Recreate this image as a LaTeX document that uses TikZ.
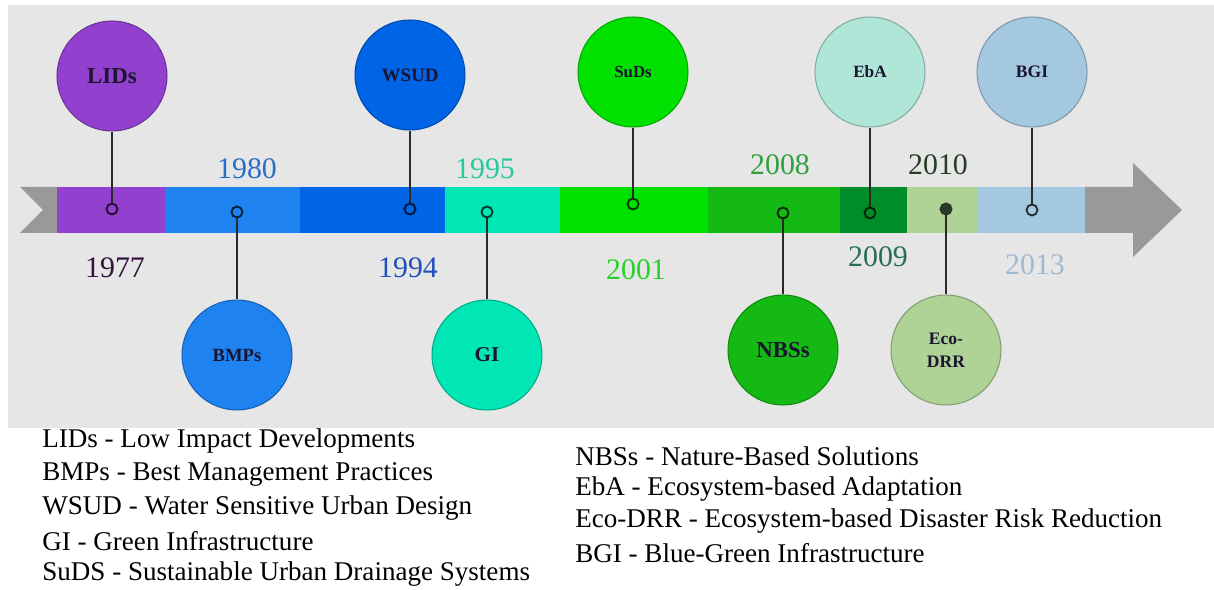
\documentclass[tikz,border=0pt]{standalone}
\usepackage{fontspec}
\setmainfont{Liberation Serif}
\usetikzlibrary{positioning}

% Colours

\definecolor{panelgray}{HTML}{E6E6E6}
\definecolor{arrowgray}{HTML}{999999}
\definecolor{stemdark}{HTML}{2A2A2A}
\definecolor{labeldark}{HTML}{1C1430}
\definecolor{segpurple}{HTML}{9141CD}
\definecolor{seglightblue}{HTML}{1E82F0}
\definecolor{segblue}{HTML}{0064E6}
\definecolor{segaqua}{HTML}{00E6B4}
\definecolor{segbright}{HTML}{00E100}
\definecolor{segmid}{HTML}{14B914}
\definecolor{segdark}{HTML}{008C28}
\definecolor{segpale}{HTML}{AFD296}
\definecolor{segsky}{HTML}{A5C8E1}
\definecolor{ebafill}{HTML}{AFE6D7}
\definecolor{yr1977}{HTML}{32143C}
\definecolor{yr1980}{HTML}{286EC8}
\definecolor{yr1994}{HTML}{1E50BE}
\definecolor{yr1995}{HTML}{28C8A0}
\definecolor{yr2001}{HTML}{28D228}
\definecolor{yr2008}{HTML}{32A03C}
\definecolor{yr2009}{HTML}{286E50}
\definecolor{yr2010}{HTML}{283C28}
\definecolor{yr2013}{HTML}{A0B9D2}

\tikzset{
	bubble/.style = {circle, draw = #1!75!black, line width = 0.6pt, fill = #1, minimum size = 2.2 cm, inner sep = 0 pt, text = labeldark, align = center},
	ring/.style = {circle, draw = #1!25!black, line width = 1.1pt, fill = #1, minimum size = 0.22 cm, inner sep = 0 pt},
	stem/.style = {line width = 1.2pt, stemdark},
	year/.style = {text = #1, font = \fontsize{17}{17}\selectfont},
	legend/.style = {anchor = west, inner sep = 0 pt, font = \fontsize{15.4}{16}\selectfont}
}

\begin{document}
\begin{tikzpicture}[x = 0.02 cm, y = -0.02 cm]

	% Definitions
	
	\def\T{187}	% Top of the bar
	\def\B{233}	% Bottom of the bar
	
	\useasboundingbox (0, 0) rectangle (1214, 590);
	\fill [white] (0, 0) rectangle (1214, 590);
	\fill [panelgray] (8, 5) rectangle (1214, 428);
	
	% Bar
	
	\fill [arrowgray] (20, \T) -- (58, \T) -- (58, \B) -- (20, \B) -- (43, 210) -- cycle;
	\fill [segpurple] (57, \T) rectangle (166, \B);
	\fill [seglightblue] (165, \T) rectangle (301, \B);
	\fill [segblue] (300, \T) rectangle (446, \B);
	\fill [segaqua] (445, \T) rectangle (561, \B);
	\fill [segbright] (560, \T) rectangle (709, \B);
	\fill [segmid] (708, \T) rectangle (841, \B);
	\fill [segdark] (840, \T) rectangle (908, \B);
	\fill [segpale] (907, \T) rectangle (979, \B);
	\fill [segsky] (978, \T) rectangle (1086, \B);
	\fill [arrowgray] (1085, \T) -- (1133, \T) -- (1133, 163) -- (1182, 210) -- (1133, 257) -- (1133, \B) -- (1085, \B) -- cycle;
	
	% Markers on the bar
	
	\node [ring = segpurple] (lidsdot) at (112, 209) {};
	\node [ring = seglightblue] (bmpsdot) at (237, 212) {};
	\node [ring = segblue] (wsuddot) at (410, 209) {};
	\node [ring = segaqua] (gidot) at (487, 212) {};
	\node [ring = segbright] (sudsdot) at (633, 204) {};
	\node [ring = segmid] (nbssdot) at (783, 213) {};
	\node [ring = segdark] (ebadot) at (870, 213) {};
	\node [ring = segpale, fill = yr2010] (ecodrrdot) at (946, 209) {};
	\node [ring = segsky] (bgidot) at (1032, 210) {};
	
	% Bubbles
	
	\node [bubble = segpurple, font = \bfseries\fontsize{13}{13}\selectfont] (lids) at (112, 76) {LIDs};
	\node [bubble = seglightblue, font = \bfseries\fontsize{10.6}{11}\selectfont] (bmps) at (237, 355) {BMPs};
	\node [bubble = segblue, font = \bfseries\fontsize{10.8}{11}\selectfont] (wsud) at (410, 75) {WSUD};
	\node [bubble = segaqua, font = \bfseries\fontsize{12}{12}\selectfont] (gi) at (487, 355) {GI};
	\node [bubble = segbright, font = \bfseries\fontsize{9.6}{10}\selectfont] (suds) at (633, 72) {SuDs};
	\node [bubble = segmid, font = \bfseries\fontsize{13}{13}\selectfont] (nbss) at (783, 350) {NBSs};
	\node [bubble = ebafill, font = \bfseries\fontsize{9.8}{10}\selectfont] (eba) at (870, 72) {EbA};
	\node [bubble = segpale, font = \bfseries\fontsize{10}{13}\selectfont] (ecodrr) at (946, 350) {Eco-\\DRR};
	\node [bubble = segsky, font = \bfseries\fontsize{10}{10}\selectfont] (bgi) at (1032, 72) {BGI};
	
	% Stems
	
	\draw [stem] (lids) -- (lidsdot);
	\draw [stem] (bmpsdot) -- (bmps);
	\draw [stem] (wsud) -- (wsuddot);
	\draw [stem] (gidot) -- (gi);
	\draw [stem] (suds) -- (sudsdot);
	\draw [stem] (nbssdot) -- (nbss);
	\draw [stem] (eba) -- (ebadot);
	\draw [stem] (ecodrrdot) -- (ecodrr);
	\draw [stem] (bgi) -- (bgidot);
	
	% Years
	
	\node [year = yr1977] (y1977) at (115, 268) {1977};
	\node [year = yr1980] (y1980) at (247, 169) {1980};
	\node [year = yr1994] (y1994) at (408, 268) {1994};
	\node [year = yr1995] (y1995) at (485, 169) {1995};
	\node [year = yr2001] (y2001) at (636, 270) {2001};
	\node [year = yr2008] (y2008) at (780, 165) {2008};
	\node [year = yr2009] (y2009) at (878, 257) {2009};
	\node [year = yr2010] (y2010) at (938, 165) {2010};
	\node [year = yr2013] (y2013) at (1035, 265) {2013};
	
	% Legend
	
	\node [legend] (keylids) at (42, 441) {LIDs - Low Impact Developments};
	\node [legend] (keybmps) at (42, 474) {BMPs - Best Management Practices};
	\node [legend] (keywsud) at (42, 508) {WSUD - Water Sensitive Urban Design};
	\node [legend] (keygi) at (42, 541) {GI - Green Infrastructure};
	\node [legend] (keysuds) at (42, 574) {SuDS - Sustainable Urban Drainage Systems};
	
	\node [legend] (keynbss) at (575, 456) {NBSs - Nature-Based Solutions};
	\node [legend] (keyeba) at (575, 489) {EbA - Ecosystem-based Adaptation};
	\node [legend] (keyecodrr) at (575, 521) {Eco-DRR - Ecosystem-based Disaster Risk Reduction};
	\node [legend] (keybgi) at (575, 553) {BGI - Blue-Green Infrastructure};

\end{tikzpicture}
\end{document}
